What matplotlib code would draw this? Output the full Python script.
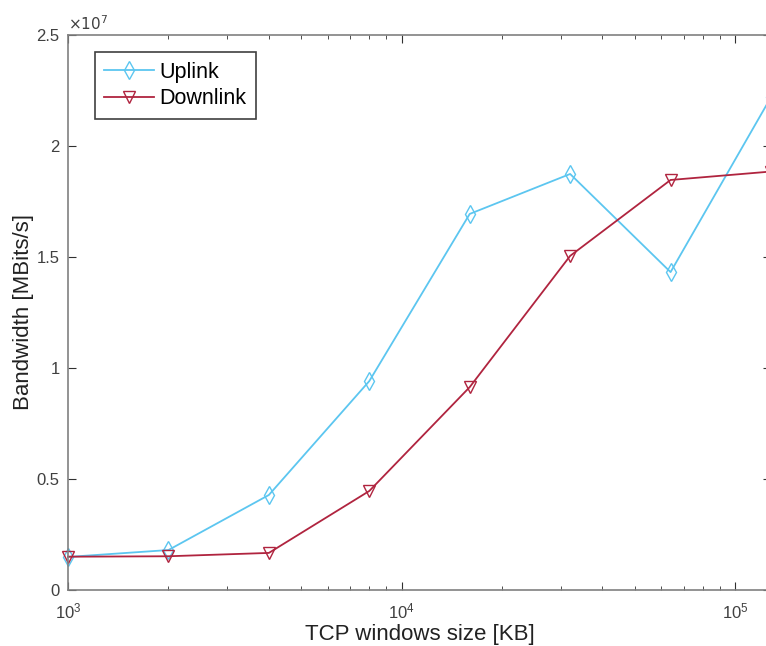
import matplotlib
matplotlib.use("Agg")
import matplotlib.pyplot as plt
from matplotlib.ticker import LogLocator, FixedLocator

plt.rcParams['font.family'] = ['Liberation Sans', 'DejaVu Sans']

window_kb = [1000, 2000, 4000, 8000, 16000, 32000, 64000, 128000]
uplink = [1.49e6, 1.80e6, 4.28e6, 9.41e6, 1.694e7, 1.874e7, 1.432e7, 2.22e7]
downlink = [1.50e6, 1.52e6, 1.67e6, 4.46e6, 9.14e6, 1.505e7, 1.847e7, 1.885e7]

up_color = '#5cc6f0'
down_color = '#b0243f'
axis_gray = '#808080'
text_gray = '#404040'

fig = plt.figure(figsize=(7.66, 6.46), dpi=100)
# right edge of the axes sits just past the figure border
ax = fig.add_axes([68 / 766, 56 / 646, 703 / 766, 555 / 646])

ax.plot(window_kb, uplink, color=up_color, marker='d', markersize=9,
        markerfacecolor='none', markeredgecolor=up_color, linewidth=1.3,
        label='Uplink', clip_on=False)
ax.plot(window_kb, downlink, color=down_color, marker='v', markersize=8,
        markerfacecolor='none', markeredgecolor=down_color, linewidth=1.3,
        label='Downlink', clip_on=False)

ax.set_xscale('log')
ax.set_xlim(1000, 128000)
ax.set_ylim(0, 2.5e7)
ax.xaxis.set_major_locator(LogLocator(base=10))
ax.xaxis.set_minor_locator(LogLocator(base=10, subs=range(2, 10)))
ax.yaxis.set_major_locator(FixedLocator([0, 0.5e7, 1e7, 1.5e7, 2e7, 2.5e7]))
ax.set_yticklabels(['0', '0.5', '1', '1.5', '2', '2.5'])
ax.yaxis.offsetText.set_visible(False)
ax.text(0.0, 1.004, r'$\times10^{7}$', transform=ax.transAxes,
        fontsize=11, color=text_gray, ha='left', va='bottom')

for side in ['left', 'bottom', 'top', 'right']:
    ax.spines[side].set_color(axis_gray)
    ax.spines[side].set_linewidth(1.2)
ax.tick_params(which='both', direction='in', top=True, right=True,
               color='#303030', labelcolor=text_gray, labelsize=12)
ax.tick_params(which='major', length=6)
ax.tick_params(which='minor', length=3)
ax.tick_params(axis='x', which='major', pad=8)
ax.tick_params(axis='y', which='major', pad=6)

ax.set_xlabel('TCP windows size [KB]', fontsize=16, color='#222222', labelpad=2)
ax.set_ylabel('Bandwidth [MBits/s]', fontsize=16, color='#222222', labelpad=2)

leg = ax.legend(loc='upper left', bbox_to_anchor=(0.038, 0.969),
                borderaxespad=0, fontsize=15.5, fancybox=False,
                handlelength=2.3, handletextpad=0.25, borderpad=0.45,
                labelspacing=0.25)
leg.get_frame().set_edgecolor('#404040')
leg.get_frame().set_linewidth(1.2)
leg.get_frame().set_alpha(1)

fig.savefig('out.png', dpi=100)
